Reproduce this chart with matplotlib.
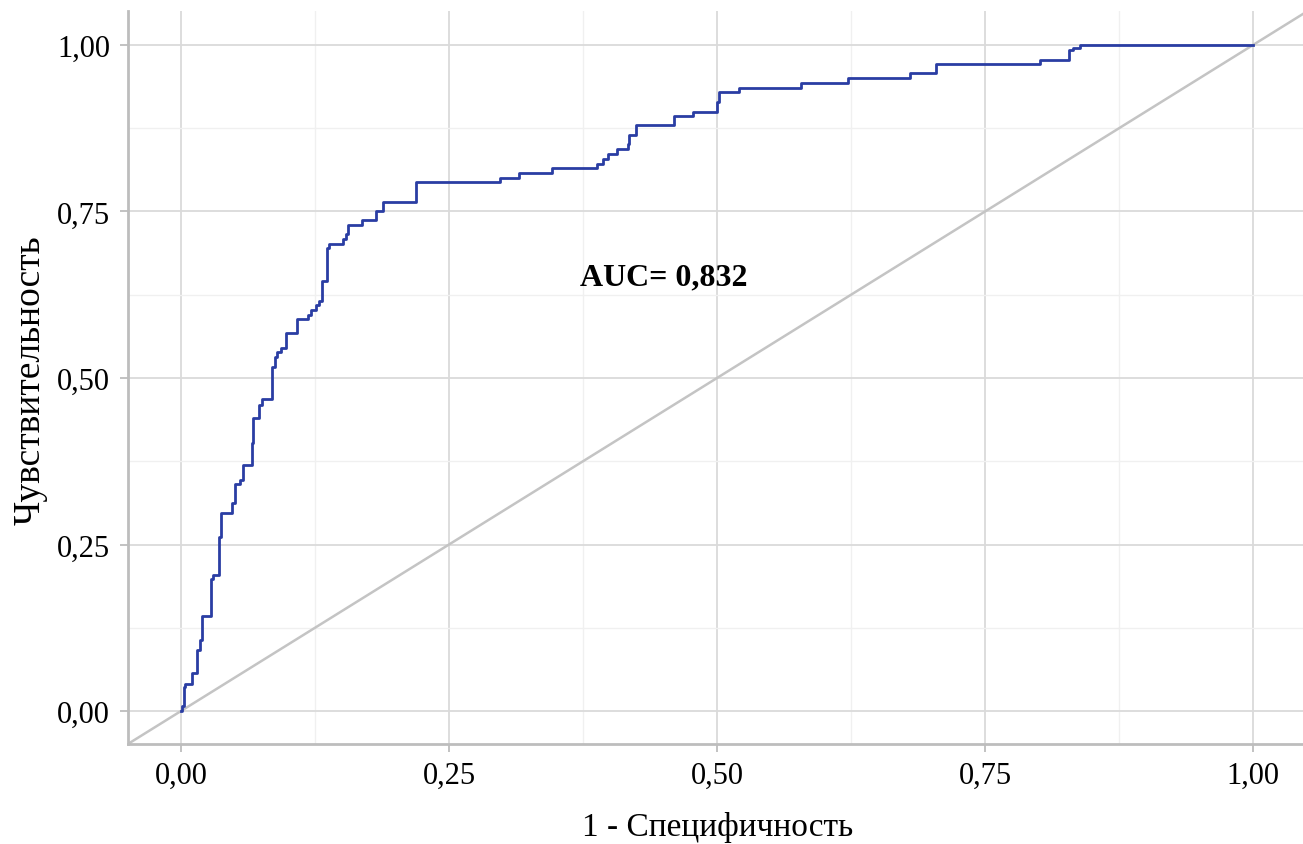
import numpy as np
import matplotlib.pyplot as plt
from matplotlib.ticker import MultipleLocator, FuncFormatter

# ROC curve (step points: x where the jump happens, y after the jump)
fpr = [0.0, 0.0007, 0.0028, 0.0037, 0.0100, 0.0146, 0.0177, 0.0196, 0.0277, 0.0300,
       0.0354, 0.0373, 0.0479, 0.0504, 0.0550, 0.0576, 0.0660, 0.0674, 0.0730, 0.0753,
       0.0852, 0.0877, 0.0898, 0.0933, 0.0980, 0.1085, 0.1188, 0.1213, 0.1260, 0.1287,
       0.1313, 0.1365, 0.1383, 0.1514, 0.1539, 0.1560, 0.1691, 0.1816, 0.1887, 0.2192,
       0.2976, 0.3153, 0.3458, 0.3880, 0.3940, 0.3986, 0.4064, 0.4167, 0.4182, 0.4242,
       0.4599, 0.4773, 0.4997, 0.5021, 0.5205, 0.5781, 0.6225, 0.6800, 0.7043, 0.8013,
       0.8284, 0.8324, 0.8386, 1.0]
tpr = [0.0, 0.008, 0.036, 0.040, 0.057, 0.092, 0.106, 0.142, 0.198, 0.205,
       0.262, 0.298, 0.312, 0.341, 0.347, 0.369, 0.403, 0.440, 0.459, 0.468,
       0.517, 0.531, 0.539, 0.545, 0.568, 0.588, 0.595, 0.602, 0.610, 0.616,
       0.645, 0.695, 0.701, 0.709, 0.716, 0.730, 0.737, 0.751, 0.765, 0.794,
       0.800, 0.808, 0.815, 0.822, 0.829, 0.837, 0.844, 0.851, 0.865, 0.880,
       0.894, 0.900, 0.914, 0.929, 0.935, 0.943, 0.950, 0.958, 0.971, 0.978,
       0.992, 0.996, 1.000, 1.000]
auc_label = "AUC= 0,832"

plt.rcParams['font.family'] = ['Liberation Serif', 'DejaVu Serif']

fig = plt.figure(figsize=(13.03, 8.45), dpi=100)
ax = fig.add_axes([0.0982, 0.1183, 0.9018, 0.8675])

ax.set_xlim(-0.0494, 1.0466)
ax.set_ylim(-0.0495, 1.051)

# grid
ax.xaxis.set_major_locator(MultipleLocator(0.25))
ax.yaxis.set_major_locator(MultipleLocator(0.25))
ax.xaxis.set_minor_locator(MultipleLocator(0.125))
ax.yaxis.set_minor_locator(MultipleLocator(0.125))
ax.grid(which='major', color='#dadada', linewidth=1.3)
ax.grid(which='minor', color='#f0f0f0', linewidth=1.0)
ax.set_axisbelow(True)

fmt = FuncFormatter(lambda v, p: f"{v:.2f}".replace('.', ','))
ax.xaxis.set_major_formatter(fmt)
ax.yaxis.set_major_formatter(fmt)
ax.tick_params(which='major', length=6, width=1.3, color='#bdbdbd', labelsize=22)
ax.tick_params(axis='x', pad=6)
ax.tick_params(axis='y', pad=7)
ax.tick_params(which='minor', length=0)

for s in ['top', 'right']:
    ax.spines[s].set_visible(False)
for s in ['left', 'bottom']:
    ax.spines[s].set_color('#bdbdbd')
    ax.spines[s].set_linewidth(2)

# reference diagonal and ROC curve
ax.axline((0, 0), slope=1, color='#c4c4c4', linewidth=1.8, zorder=2)
ax.plot(fpr, tpr, drawstyle='steps-post', color='#2a3da3', linewidth=2.0, zorder=3)

ax.text(0.45, 0.652, auc_label, fontsize=23, fontweight='bold', ha='center', va='center')

ax.set_xlabel("1 - Специфичность", fontsize=24)
ax.set_ylabel("Чувствительность", fontsize=27)
ax.xaxis.set_label_coords(0.502, -0.113)
ax.xaxis.label.set_va('center')
ax.yaxis.set_label_coords(-0.083, 0.498)
ax.yaxis.label.set_va('center')

fig.savefig("out.png", dpi=100)
